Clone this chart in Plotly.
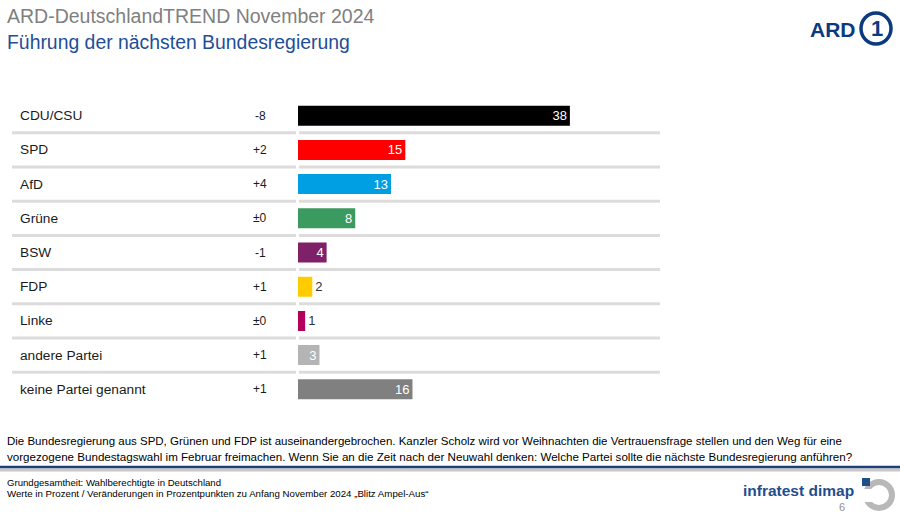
import plotly.graph_objects as go

W, H = 900, 515

parties = ["CDU/CSU", "SPD", "AfD", "Grüne", "BSW", "FDP", "Linke", "andere Partei", "keine Partei genannt"]
values = [38, 15, 13, 8, 4, 2, 1, 3, 16]
changes = ["-8", "+2", "+4", "±0", "-1", "+1", "±0", "+1", "+1"]
colors = ["#000000", "#ff0000", "#009fe3", "#3a9a5f", "#7e2168", "#ffcc00", "#b3005d", "#b4b4b4", "#808080"]
inside = [True, True, True, True, True, False, False, True, True]

FONT = "Liberation Sans, Arial, sans-serif"
NARROW = "Liberation Sans Narrow, Arial Narrow, Liberation Sans, Arial, sans-serif"

def px(x):
    return x / W

def py(y):
    return 1 - y / H

x0_px, x1_px = 298, 660
scale = 7.155  # pixels per percent
xmax = (x1_px - x0_px) / scale

row_top, row_h = 98.6, 34.2
n = len(parties)

fig = go.Figure()
fig.add_trace(go.Bar(
    y=list(range(n)),
    x=values,
    orientation="h",
    marker=dict(color=colors, line=dict(width=0)),
    width=0.585,
    text=[str(v) for v in values],
    textposition=["inside" if i else "outside" for i in inside],
    insidetextanchor="end",
    textangle=0,
    textfont=dict(family=FONT, size=13,
                  color=["#ffffff" if i else "#333333" for i in inside]),
    constraintext="none",
    cliponaxis=False,
    hoverinfo="skip",
))

shapes = []
annotations = []

# separator lines between rows
for i in range(n - 1):
    for a, b in [(12, 296), (299, 660)]:
        shapes.append(dict(type="line", xref="paper", yref="y",
                           x0=px(a), x1=px(b), y0=i + 0.5, y1=i + 0.5,
                           line=dict(color="#dcdcdc", width=3), layer="below"))

# row labels and changes
for i, (p, c) in enumerate(zip(parties, changes)):
    annotations.append(dict(x=px(18), y=i, xref="paper", yref="y", text=p,
                            showarrow=False, xanchor="left", yanchor="middle",
                            font=dict(family=FONT, size=13.7, color="#1a1a1a")))
    annotations.append(dict(x=px(260), y=i, xref="paper", yref="y", text=c,
                            showarrow=False, xanchor="center", yanchor="middle",
                            font=dict(family=FONT, size=12, color="#1a1a1a")))

# titles
annotations.append(dict(x=px(5), y=py(16), xref="paper", yref="paper",
                        text="ARD-DeutschlandTREND November 2024", showarrow=False,
                        xanchor="left", yanchor="middle",
                        font=dict(family=FONT, size=19.5, color="#808080")))
annotations.append(dict(x=px(5), y=py(42), xref="paper", yref="paper",
                        text="Führung der nächsten Bundesregierung", showarrow=False,
                        xanchor="left", yanchor="middle",
                        font=dict(family=FONT, size=19.4, color="#1f4e96")))

# question text
annotations.append(dict(x=px(5), y=py(441), xref="paper", yref="paper",
                        text="Die Bundesregierung aus SPD, Grünen und FDP ist auseinandergebrochen. Kanzler Scholz wird vor Weihnachten die Vertrauensfrage stellen und den Weg für eine",
                        showarrow=False, xanchor="left", yanchor="middle",
                        font=dict(family=NARROW, size=11.5, color="#000000")))
annotations.append(dict(x=px(5), y=py(456), xref="paper", yref="paper",
                        text="vorgezogene Bundestagswahl im Februar freimachen. Wenn Sie an die Zeit nach der Neuwahl denken: Welche Partei sollte die nächste Bundesregierung anführen?",
                        showarrow=False, xanchor="left", yanchor="middle",
                        font=dict(family=NARROW, size=11.6, color="#000000")))

# footer
annotations.append(dict(x=px(5), y=py(482), xref="paper", yref="paper",
                        text="Grundgesamtheit: Wahlberechtigte in Deutschland",
                        showarrow=False, xanchor="left", yanchor="middle",
                        font=dict(family=NARROW, size=9.6, color="#000000")))
annotations.append(dict(x=px(5), y=py(493), xref="paper", yref="paper",
                        text="Werte in Prozent / Veränderungen in Prozentpunkten zu Anfang November 2024 „Blitz Ampel-Aus“",
                        showarrow=False, xanchor="left", yanchor="middle",
                        font=dict(family=NARROW, size=9.7, color="#000000")))
annotations.append(dict(x=px(856), y=py(490), xref="paper", yref="paper",
                        text="<b>infratest dimap</b>", showarrow=False,
                        xanchor="right", yanchor="middle",
                        font=dict(family=NARROW, size=15.5, color="#1f4e8c")))
annotations.append(dict(x=px(842), y=py(507), xref="paper", yref="paper",
                        text="6", showarrow=False, xanchor="center", yanchor="middle",
                        font=dict(family=FONT, size=11, color="#909090")))

# ARD logo
annotations.append(dict(x=px(858), y=py(29), xref="paper", yref="paper",
                        text="<b>ARD</b>", showarrow=False, xanchor="right", yanchor="middle",
                        font=dict(family=FONT, size=21, color="#0b3a7e")))
shapes.append(dict(type="circle", xref="paper", yref="paper",
                   x0=px(861), x1=px(891), y0=py(44), y1=py(13),
                   line=dict(color="#0b3a7e", width=3.5), fillcolor="rgba(0,0,0,0)"))
annotations.append(dict(x=px(877), y=py(28), xref="paper", yref="paper",
                        text="<b>1</b>", showarrow=False, xanchor="center", yanchor="middle",
                        font=dict(family=FONT, size=22, color="#0b3a7e")))

# infratest icon: grey ring open to the left, blue square top-left
shapes.append(dict(type="circle", xref="paper", yref="paper",
                   x0=px(866), x1=px(892), y0=py(508), y1=py(482),
                   line=dict(color="#b8b8b8", width=6), fillcolor="rgba(0,0,0,0)"))
shapes.append(dict(type="rect", xref="paper", yref="paper",
                   x0=px(860), x1=px(873), y0=py(502), y1=py(489),
                   line=dict(width=0), fillcolor="#ffffff"))
shapes.append(dict(type="rect", xref="paper", yref="paper",
                   x0=px(862), x1=px(870), y0=py(486), y1=py(478),
                   line=dict(width=0), fillcolor="#1f4e8c"))

# bottom blue rule with shadow
shapes.append(dict(type="line", xref="paper", yref="paper", x0=0, x1=1,
                   y0=py(470), y1=py(470), line=dict(color="#c8c8c8", width=3)))
shapes.append(dict(type="line", xref="paper", yref="paper", x0=0, x1=1,
                   y0=py(467), y1=py(467), line=dict(color="#1f3f7a", width=2.5)))

fig.update_layout(
    width=W, height=H,
    margin=dict(l=0, r=0, t=0, b=0),
    paper_bgcolor="#ffffff", plot_bgcolor="rgba(0,0,0,0)",
    showlegend=False,
    xaxis=dict(domain=[px(x0_px), px(x1_px)], range=[0, xmax],
               showgrid=False, zeroline=False, showticklabels=False, showline=False),
    yaxis=dict(domain=[py(row_top + n * row_h), py(row_top)],
               range=[n - 0.5, -0.5], showgrid=False, zeroline=False,
               showticklabels=False, showline=False),
    shapes=shapes,
    annotations=annotations,
    font=dict(family=FONT),
)

fig.write_html("out.html", config={"displayModeBar": False},
               post_script="document.body.style.margin='0';")
